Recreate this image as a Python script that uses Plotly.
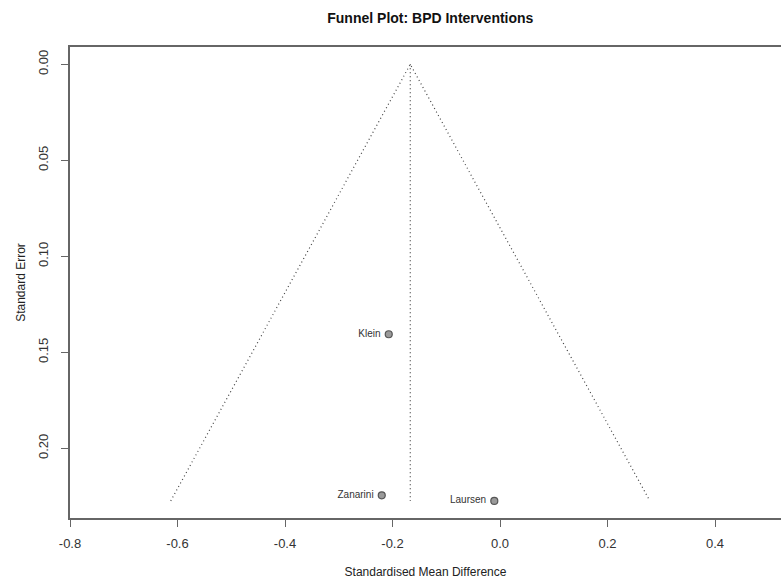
import plotly.graph_objects as go

studies = ["Klein", "Zanarini", "Laursen"]
smd = [-0.207, -0.220, -0.0106]
se = [0.1406, 0.2245, 0.2274]
pooled = -0.1669
x_ticks = [-0.8, -0.6, -0.4, -0.2, 0.0, 0.2, 0.4]
y_ticks = [0.00, 0.05, 0.10, 0.15, 0.20]

se_max = max(se)
z = 1.96
funnel_x = [pooled - z * se_max, pooled, pooled + z * se_max]
funnel_y = [se_max, 0.0, se_max]

line_col = "#444444"
dot = "1px,3px"
fig = go.Figure()
fig.add_trace(go.Scatter(x=funnel_x, y=funnel_y, mode="lines",
                         line=dict(color=line_col, width=1.2, dash=dot),
                         hoverinfo="skip", showlegend=False))
fig.add_trace(go.Scatter(x=[pooled, pooled], y=[0.0, se_max], mode="lines",
                         line=dict(color=line_col, width=1.2, dash=dot),
                         hoverinfo="skip", showlegend=False))
fig.add_trace(go.Scatter(x=smd, y=se, mode="markers+text", text=[s + " " for s in studies],
                         textposition="middle left",
                         textfont=dict(family="Liberation Sans, Arial, sans-serif", size=10, color="#333333"),
                         marker=dict(size=7, color="#9a9a9a", line=dict(color="#555555", width=1.2)),
                         showlegend=False))

font = "Liberation Sans, Arial, sans-serif"
fig.update_layout(
    width=781, height=579,
    margin=dict(l=70, r=0, t=47, b=61, autoexpand=False),
    plot_bgcolor="white", paper_bgcolor="white",
    font=dict(family=font, size=12, color="#222222"),
    title=dict(text="<b>Funnel Plot: BPD Interventions</b>", x=0.551, xanchor="center",
               y=1 - 18 / 579, yanchor="middle", font=dict(size=14, color="#111111")),
    xaxis=dict(range=[-0.8, 0.5228], tickvals=x_ticks, ticktext=[f"{v:.1f}" for v in x_ticks],
               automargin=False,
               showgrid=False, zeroline=False, showline=True, linecolor="#666666", linewidth=1.5,
               mirror=True, ticks="outside", ticklen=7, tickcolor="#666666",
               ticklabelstandoff=6,
               tickfont=dict(size=13, color="#333333"),
               title=dict(text="Standardised Mean Difference", font=dict(size=12, color="#222222"), standoff=24)),
    yaxis=dict(range=[0.2363, -0.0090], tickvals=y_ticks, ticktext=[f"{v:.2f}" for v in y_ticks],
               automargin=False,
               showgrid=False, zeroline=False, showline=True, linecolor="#666666", linewidth=1.5,
               ticks="outside", ticklen=7, tickcolor="#666666", tickangle=-90,
               ticklabelstandoff=8,
               tickfont=dict(size=13, color="#333333"),
               title=dict(text="Standard Error", font=dict(size=12, color="#222222"), standoff=8)),
)
fig.write_html("out.html")
